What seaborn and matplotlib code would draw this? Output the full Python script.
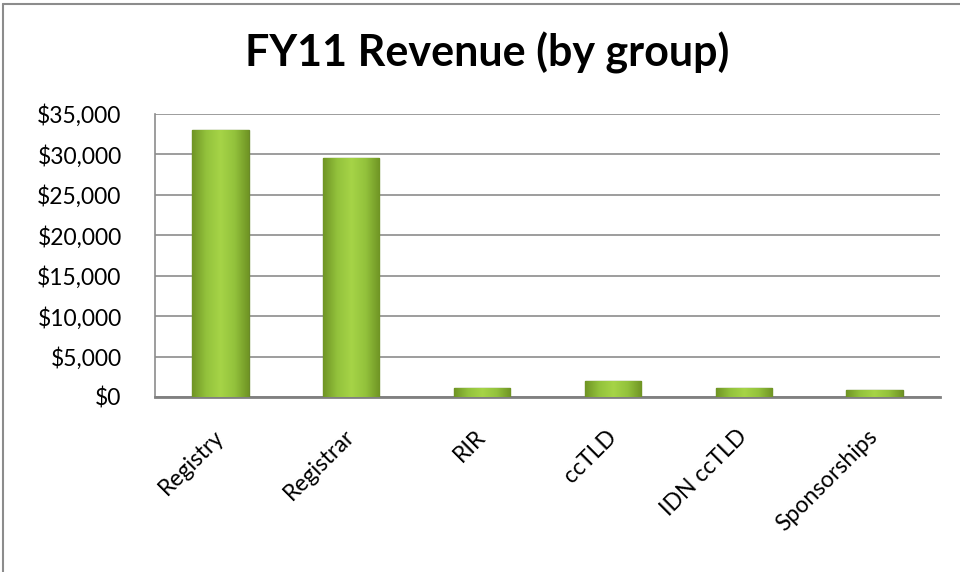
import matplotlib
matplotlib.use("Agg")
import matplotlib.pyplot as plt
import matplotlib.ticker as mticker
import matplotlib.transforms as mtransforms
from matplotlib.colors import LinearSegmentedColormap
import numpy as np
import seaborn as sns
import pandas as pd

categories = ["Registry", "Registrar", "RIR", "ccTLD", "IDN ccTLD", "Sponsorships"]
revenue = [33000, 29500, 1100, 2000, 1100, 850]
yticks = [0, 5000, 10000, 15000, 20000, 25000, 30000, 35000]

df = pd.DataFrame({"group": categories, "revenue": revenue})

sns.set_theme(style="white")
plt.rcParams["font.family"] = ["Lato", "DejaVu Sans"]
plt.rcParams["text.color"] = "black"
plt.rcParams["xtick.color"] = "black"
plt.rcParams["ytick.color"] = "black"

fig = plt.figure(figsize=(9.6, 5.72), dpi=100)
ax = fig.add_axes([155/960, 1 - 397/572, (940-155)/960, (397-114)/572])

sns.barplot(data=df, x="group", y="revenue", ax=ax, color="#8db83a",
            width=0.43, edgecolor="#6a8a2a", linewidth=1.0, saturation=1, zorder=3)

# bevelled gradient fill clipped to each bar
cmap = LinearSegmentedColormap.from_list("bev", ["#6f9424", "#93c23c", "#a6d447", "#93c23c", "#6f9424"])
grad = np.linspace(0, 1, 256).reshape(1, -1)
for p in ax.patches:
    x0, y0 = p.get_x(), p.get_y()
    w, h = p.get_width(), p.get_height()
    im = ax.imshow(grad, cmap=cmap, aspect="auto", extent=(x0, x0 + w, y0, y0 + h),
                   zorder=3.5, interpolation="bicubic")
    im.set_clip_path(p)

ax.set_xlim(-0.5, len(categories) - 0.5)
ax.set_ylim(0, 35000)
ax.set_yticks(yticks)
ax.yaxis.set_major_formatter(mticker.FuncFormatter(lambda v, p: f"${v:,.0f}"))
ax.grid(axis="y", color="#8c8c8c", linewidth=1.2, zorder=0)
ax.set_axisbelow(True)
for s in ["top", "right"]:
    ax.spines[s].set_visible(False)
ax.spines["left"].set_color("#8c8c8c")
ax.spines["left"].set_linewidth(1.2)
ax.spines["bottom"].set_color("#808080")
ax.spines["bottom"].set_linewidth(2)
ax.set_xlabel("")
ax.set_ylabel("")
ax.tick_params(axis="y", labelsize=16.5, length=0, pad=24, colors="black")
ax.tick_params(axis="x", length=0, pad=6, colors="black")
ax.set_xticks(range(len(categories)))
ax.set_xticklabels(categories, rotation=45, ha="right", va="center",
                   rotation_mode="anchor", fontsize=16.5)
for lbl in ax.get_xticklabels():
    lbl.set_transform(lbl.get_transform() + mtransforms.ScaledTranslation(0.0, -0.28, fig.dpi_scale_trans))

fig.text(487/960, 1 - 67/572, "FY11 Revenue (by group)", ha="center", va="baseline",
         fontsize=31, fontweight="bold", color="black")

# chart frame: top and left edges
fig.add_artist(plt.Line2D([3/960, 3/960], [0, 1 - 4/572], transform=fig.transFigure,
                          color="#8c8c8c", linewidth=1.5))
fig.add_artist(plt.Line2D([3/960, 1], [1 - 4/572, 1 - 4/572], transform=fig.transFigure,
                          color="#8c8c8c", linewidth=1.5))

fig.savefig("out.png", dpi=100)
